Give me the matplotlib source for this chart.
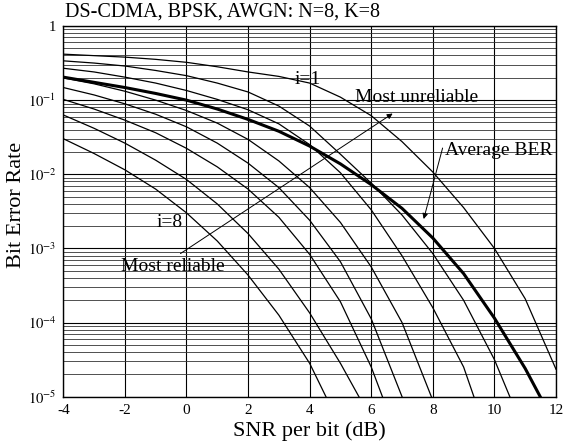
import numpy as np
import matplotlib
matplotlib.use('Agg')
import matplotlib.pyplot as plt

plt.rcParams['font.family'] = ['Liberation Serif', 'DejaVu Serif']
plt.rcParams['mathtext.fontset'] = 'stix'
plt.rcParams['axes.unicode_minus'] = False

# SNR per bit (dB) grid used by every curve
snr_db = [-4, -3, -2, -1, 0, 1, 2, 3, 4, 5, 6, 7, 8, 9, 10, 11, 12]

# log10(BER), bit i=1 (most unreliable) .. i=8 (most reliable)
log_ber_i1 = [-0.38, -0.40, -0.42, -0.45, -0.49, -0.55, -0.62, -0.68, -0.77, -0.96,
              -1.21, -1.56, -1.97, -2.45, -3.00, -3.68, -4.63]
log_ber_i2 = [-0.47, -0.50, -0.54, -0.60, -0.67, -0.77, -0.89, -1.08, -1.35, -1.73,
              -2.12, -2.55, -3.07, -3.70, -4.50, -5.50]
log_ber_i3 = [-0.57, -0.62, -0.69, -0.77, -0.87, -0.99, -1.13, -1.32, -1.60, -1.98,
              -2.48, -3.10, -3.80, -4.60, -5.80]
log_ber_i4 = [-0.70, -0.78, -0.88, -1.00, -1.14, -1.31, -1.53, -1.82, -2.18, -2.65,
              -3.25, -4.00, -5.05]
log_ber_i5 = [-0.83, -0.93, -1.05, -1.19, -1.36, -1.58, -1.85, -2.18, -2.62, -3.18,
              -3.95, -5.00]
log_ber_i6 = [-0.99, -1.12, -1.27, -1.44, -1.65, -1.90, -2.20, -2.58, -3.08, -3.72,
              -4.60, -5.70]
log_ber_i7 = [-1.20, -1.38, -1.58, -1.81, -2.07, -2.40, -2.80, -3.28, -3.87, -4.55,
              -5.30]
log_ber_i8 = [-1.52, -1.72, -1.94, -2.20, -2.52, -2.90, -3.36, -3.90, -4.55, -5.40]
log_ber_avg = [-0.69, -0.76, -0.83, -0.91, -1.00, -1.12, -1.26, -1.42, -1.62, -1.86,
               -2.14, -2.46, -2.86, -3.34, -3.94, -4.62, -5.40]

bit_curves = [log_ber_i1, log_ber_i2, log_ber_i3, log_ber_i4,
              log_ber_i5, log_ber_i6, log_ber_i7, log_ber_i8]

x_ticks = [-4, -2, 0, 2, 4, 6, 8, 10, 12]
y_ticks = [1e-5, 1e-4, 1e-3, 1e-2, 1e-1, 1]
y_tick_labels = [r'$10^{-5}$', r'$10^{-4}$', r'$10^{-3}$', r'$10^{-2}$', r'$10^{-1}$', '1']

fig = plt.figure(figsize=(5.63, 4.48), dpi=100)
ax = fig.add_axes([0.1124, 0.1145, 0.8752, 0.8275])

for curve in bit_curves:
    x = snr_db[:len(curve)]
    ax.plot(x, 10.0 ** np.array(curve), color='black', lw=0.9, zorder=3)
ax.plot(snr_db, 10.0 ** np.array(log_ber_avg), color='black', lw=2.2, zorder=4)

ax.set_yscale('log')
ax.set_xlim(-4, 12)
ax.set_ylim(1e-5, 1)
ax.set_xticks(x_ticks)
ax.set_xticklabels([str(t) for t in x_ticks], fontsize=11)
ax.set_yticks(y_ticks)
ax.set_yticklabels(y_tick_labels, fontsize=10.5)
ax.yaxis.set_minor_locator(matplotlib.ticker.LogLocator(base=10, subs=np.arange(2, 10)))
ax.yaxis.set_minor_formatter(matplotlib.ticker.NullFormatter())
ax.tick_params(which='both', length=0, pad=5)

ax.grid(True, which='major', color='black', lw=0.8)
ax.grid(True, which='minor', axis='y', color='#333333', lw=0.6)
for s in ax.spines.values():
    s.set_linewidth(1.0)

ax.set_xlabel('SNR per bit (dB)', fontsize=16)
ax.set_ylabel('Bit Error Rate', fontsize=16)
ax.xaxis.set_label_coords(0.5, -0.066)
ax.yaxis.set_label_coords(-0.075, 0.517)
fig.text(0.1155, 0.972, 'DS-CDMA, BPSK, AWGN: N=8, K=8', fontsize=14.5, va='center', ha='left')

# annotations
ax.text(3.94, 10 ** -0.72, 'i=1', fontsize=14, ha='center', va='center', zorder=5)
ax.text(-0.53, 10 ** -2.65, 'i=8', fontsize=14, ha='center', va='center', zorder=5)
ax.text(7.48, 10 ** -0.96, 'Most unreliable', fontsize=14, ha='center', va='center', zorder=5)
ax.text(-0.43, 10 ** -3.24, 'Most reliable', fontsize=14, ha='center', va='center', zorder=5)
ax.text(10.15, 10 ** -1.68, 'Average BER', fontsize=14, ha='center', va='center', zorder=5)
ax.annotate('', xy=(6.77, 10 ** -1.16), xytext=(-0.27, 10 ** -3.09),
            arrowprops=dict(arrowstyle='-|>', color='black', lw=0.7, mutation_scale=8))
ax.annotate('', xy=(7.68, 10 ** -2.64), xytext=(8.34, 10 ** -1.61),
            arrowprops=dict(arrowstyle='-|>', color='black', lw=0.7, mutation_scale=8))

fig.savefig('out.png', dpi=100)
